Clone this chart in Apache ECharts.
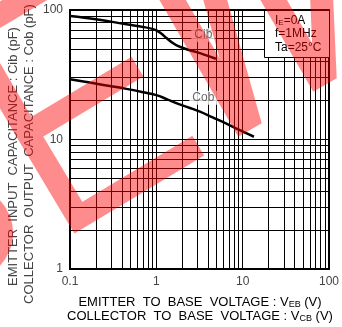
<!DOCTYPE html>
<html>
<head>
<meta charset="utf-8">
<script src="https://cdn.jsdelivr.net/npm/echarts@6/dist/echarts.min.js"></script>
<style>
  html, body { margin: 0; padding: 0; background: #fff; }
  #chart { width: 342px; height: 327px; }
</style>
</head>
<body>
<div id="chart"></div>
<script>
// capacitance curves
const cibVoltage = [0.1, 0.2, 0.45, 0.7, 0.9, 1.0, 1.15, 1.3, 1.5, 1.8, 2.2, 3.2, 4.9]
const cibCap = [90, 85, 77.5, 74, 71.5, 69.5, 65.5, 61, 56.5, 52.5, 50, 46.5, 42]
const cobVoltage = [0.1, 0.17, 0.3, 0.45, 0.7, 1.0, 1.3, 1.7, 2.4, 3.2, 4.5, 6.4, 9, 13.5]
const cobCap = [29.2, 27.5, 25.8, 24.6, 23.2, 22, 20.6, 19.1, 17.6, 16.4, 14.8, 13.3, 11.9, 10.5]

const xTicks = [0.1, 1, 10, 100]
const xTickLabels = ['0.1', '1', '10', '100']
const yTicks = [1, 10, 100]
const yTickLabels = ['1', '10', '100']

// 2..9 lines in each decade
const xMinor = [0.2, 0.3, 0.4, 0.5, 0.6, 0.7, 0.8, 0.9, 2, 3, 4, 5, 6, 7, 8, 9, 20, 30, 40, 50, 60, 70, 80, 90]
const yMinor = [2, 3, 4, 5, 6, 7, 8, 9, 20, 30, 40, 50, 60, 70, 80, 90]

const curveNames = ['Cib', 'Cob']
const curveLabelAt = [[3.5, 64], [3.5, 21]]

const conditions = ['{t|I}{s|E}{t|=0A}', '{t|f=1MHz}', '{t|Ta=25°C}']

const font = 'Liberation Sans, Arial, sans-serif'
const ink = '#444'
const wm = 'rgba(255,0,0,0.45)'

const chart = echarts.init(document.getElementById('chart'))

function tickLabel(ticks, labels) {
  return (v) => {
    const i = ticks.findIndex((t) => Math.abs(Math.log10(t) - Math.log10(v)) < 1e-6)
    return i >= 0 ? labels[i] : ''
  }
}

const subRich = {
  a: { fontSize: 13, fontFamily: font, color: ink },
  s: { fontSize: 9, fontFamily: font, color: ink, verticalAlign: 'bottom' },
}

const option = {
  animation: false,
  grid: {
    left: 70,
    right: 12,
    top: 10,
    bottom: 58,
    show: true,
    borderColor: '#000',
    borderWidth: 2,
  },
  xAxis: {
    type: 'log',
    logBase: 10,
    min: 0.1,
    max: 100,
    axisLine: { show: true, lineStyle: { color: '#000', width: 2 } },
    axisTick: { show: false },
    splitLine: { show: true, lineStyle: { color: '#000', width: 1 } },
    axisLabel: {
      margin: 7,
      fontSize: 12,
      fontFamily: font,
      color: ink,
      formatter: tickLabel(xTicks, xTickLabels),
    },
  },
  yAxis: {
    type: 'log',
    logBase: 10,
    min: 1,
    max: 100,
    axisLine: { show: true, lineStyle: { color: '#000', width: 2 } },
    axisTick: { show: false },
    splitLine: { show: true, lineStyle: { color: '#000', width: 1 } },
    axisLabel: {
      margin: 7,
      fontSize: 12,
      fontFamily: font,
      color: ink,
      formatter: tickLabel(yTicks, yTickLabels),
    },
  },
  series: [
    {
      name: 'Cib',
      type: 'line',
      z: 3,
      smooth: 0.4,
      symbol: 'none',
      lineStyle: { color: '#000', width: 2.5 },
      data: cibVoltage.map((v, i) => [v, cibCap[i]]),
      markLine: {
        silent: true,
        z: 1,
        symbol: ['none', 'none'],
        label: { show: false },
        lineStyle: { color: '#000', width: 1, type: 'solid' },
        emphasis: { disabled: true },
        data: [...xMinor.map((v) => ({ xAxis: v })), ...yMinor.map((v) => ({ yAxis: v }))],
      },
    },
    {
      name: 'Cob',
      type: 'line',
      z: 3,
      smooth: 0.4,
      symbol: 'none',
      lineStyle: { color: '#000', width: 2.5 },
      data: cobVoltage.map((v, i) => [v, cobCap[i]]),
    },
    {
      name: 'labels',
      type: 'scatter',
      z: 4,
      symbolSize: 0,
      silent: true,
      data: curveLabelAt.map((p, i) => ({ value: p, name: curveNames[i] })),
      label: {
        show: true,
        position: 'inside',
        formatter: '{b}',
        fontSize: 12,
        fontFamily: font,
        color: ink,
        backgroundColor: '#fff',
        padding: [1, 3],
      },
    },
  ],
  graphic: [
    // conditions box
    { type: 'rect', z: 10, silent: true, shape: { x: 264, y: 11, width: 65, height: 46.5 }, style: { fill: '#fff' } },
    { type: 'polyline', z: 10, silent: true, shape: { points: [[264.5, 11], [264.5, 57.5], [329, 57.5]] }, style: { stroke: '#000', lineWidth: 1, fill: 'none' } },
    ...conditions.map((t, i) => ({
      type: 'text', z: 11, silent: true, x: 275, y: 20.5 + i * 13.5,
      style: {
        text: t, align: 'left', verticalAlign: 'middle',
        rich: {
          t: { fontSize: 12, fontFamily: font, color: ink },
          s: { fontSize: 8, fontFamily: font, color: ink, verticalAlign: 'bottom' },
        },
      },
    })),
    // axis titles
    { type: 'text', z: 11, silent: true, x: 200, y: 302.5,
      style: { text: '{a|EMITTER  TO  BASE  VOLTAGE : V}{s|EB}{a| (V)}', align: 'center', verticalAlign: 'middle', rich: subRich } },
    { type: 'text', z: 11, silent: true, x: 200, y: 316.5,
      style: { text: '{a|COLLECTOR  TO  BASE  VOLTAGE : V}{s|CB}{a| (V)}', align: 'center', verticalAlign: 'middle', rich: subRich } },
    { type: 'text', z: 11, silent: true, x: 13.5, y: 156.5, rotation: Math.PI / 2,
      style: { text: 'EMITTER  INPUT  CAPACITANCE : Cib (pF)', align: 'center', verticalAlign: 'middle', fontSize: 13, fontFamily: font, fill: ink } },
    { type: 'text', z: 11, silent: true, x: 29, y: 154, rotation: Math.PI / 2,
      style: { text: 'COLLECTOR  OUTPUT  CAPACITANCE : Cob (pF)', align: 'center', verticalAlign: 'middle', fontSize: 13, fontFamily: font, fill: ink } },
    // "NEW" watermark
    { type: 'polyline', z: 100, silent: true,
      shape: { points: [[72, -28], [-31, 33], [27.5, 132.7], [137.5, 66.7], [27.5, 132.7], [78.4, 217.7], [198.3, 145.7]] },
      style: { stroke: wm, lineWidth: 23, fill: 'none', lineJoin: 'miter', miterLimit: 10, lineCap: 'butt' } },
    { type: 'polygon', z: 100, silent: true,
      shape: { points: [[156.5, -5], [183, -5], [219.7, 58.6], [201.9, -5], [225.8, -5], [261.7, 123.3], [238.3, 136.7]] },
      style: { fill: wm } },
    { type: 'polygon', z: 100, silent: true,
      shape: { points: [[257.5, -5], [284.1, -5], [312.1, 43.6], [310, -5], [333, -5], [336.7, 78.3], [313.3, 91.7]] },
      style: { fill: wm } },
    { type: 'circle', z: 100, silent: true, shape: { cx: -35, cy: 233, r: 48 }, style: { fill: wm } },
  ],
}

chart.setOption(option)
</script>
</body>
</html>
